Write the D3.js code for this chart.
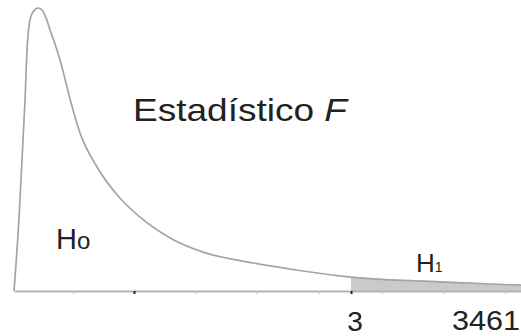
<!DOCTYPE html>
<html>
<head>
<meta charset="utf-8">
<script src="https://cdn.jsdelivr.net/npm/d3@7"></script>
<style>
  body { margin: 0; background: #fff; }
  svg { display: block; font-family: "Liberation Sans", Arial, sans-serif; }
</style>
</head>
<body>
<div id="chart"></div>
<script>
// F density curve
const fValues = [0, 0.045, 0.071, 0.098, 0.116, 0.142, 0.169, 0.214, 0.249, 0.285, 0.320, 0.365,
  0.410, 0.454, 0.499, 0.588, 0.739, 0.944, 1.122, 1.389, 1.683, 2.128, 2.573, 3.0, 3.792, 4.513];
const densities = [0, 0.203, 0.360, 0.525, 0.663, 0.745, 0.767, 0.778, 0.773, 0.751, 0.718, 0.679,
  0.635, 0.583, 0.528, 0.434, 0.341, 0.255, 0.203, 0.146, 0.107, 0.077, 0.055, 0.038, 0.025, 0.016];
const criticalF = 3;
const minorTicks = [0.525, 1.611, 2.154, 2.715, 3.276, 3.819, 4.371];
const darkTicks = [1.068, 3.0];
const critLabel = "3";
const obsLabel = "3461";

const width = 521, height = 336;
const baseY = 291;

const curveData = fValues.map((f, i) => ({f: f, d: densities[i]}));

const svg = d3.select("#chart")
  .append("svg")
    .attr("width", width)
    .attr("height", height);

const x = d3.scaleLinear()
  .domain([0, 4.513])
  .range([14, 521]);

const y = d3.scaleLinear()
  .domain([0, 0.8])
  .range([baseY, 0]);

// rejection region
const tail = curveData.filter(d => d.f >= criticalF);
svg.append("path")
  .datum(tail)
  .attr("fill", "#cacaca")
  .attr("stroke", "none")
  .attr("d", d3.area()
    .x(d => x(d.f))
    .y0(y(0))
    .y1(d => y(d.d))
    .curve(d3.curveMonotoneX));

// axis
const xAxis = svg.append("g")
  .attr("transform", `translate(0, ${baseY})`)
  .call(d3.axisBottom(x).tickValues(minorTicks).tickFormat("").tickSize(3).tickSizeOuter(0));
xAxis.select(".domain").attr("stroke", "#b4b4b4").attr("stroke-width", 2);
xAxis.selectAll(".tick line").attr("stroke", "#c4c4c4");

svg.append("g")
  .attr("transform", `translate(0, ${baseY})`)
  .call(d3.axisBottom(x).tickValues(darkTicks).tickFormat("").tickSize(3).tickSizeOuter(0))
  .call(g => g.select(".domain").remove())
  .selectAll(".tick line")
    .attr("stroke", "#222")
    .attr("stroke-width", 2);

// density curve
svg.append("path")
  .datum(curveData)
  .attr("fill", "none")
  .attr("stroke", "#a4a4a4")
  .attr("stroke-width", 1.7)
  .attr("d", d3.line()
    .x(d => x(d.f))
    .y(d => y(d.d))
    .curve(d3.curveMonotoneX));

// labels
const title = svg.append("text")
  .attr("x", 133)
  .attr("y", 121)
  .attr("font-size", 32)
  .attr("fill", "#222")
  .attr("textLength", 214)
  .attr("lengthAdjust", "spacingAndGlyphs");
title.append("tspan").text("Estadístico ");
title.append("tspan").attr("font-style", "italic").text("F");

const h0 = svg.append("text")
  .attr("x", 56)
  .attr("y", 249)
  .attr("font-size", 29)
  .attr("fill", "#222");
h0.append("tspan").text("H");
h0.append("tspan").attr("font-size", 24).text("o");

const h1 = svg.append("text")
  .attr("x", 416)
  .attr("y", 272)
  .attr("font-size", 26)
  .attr("fill", "#222");
h1.append("tspan").text("H");
h1.append("tspan").attr("font-size", 14).text("1");

svg.append("text")
  .attr("x", x(criticalF) + 4)
  .attr("y", 331)
  .attr("text-anchor", "middle")
  .attr("font-size", 28)
  .attr("fill", "#222")
  .text(critLabel);

svg.append("text")
  .attr("x", 452)
  .attr("y", 330)
  .attr("font-size", 28)
  .attr("fill", "#222")
  .attr("textLength", 68)
  .attr("lengthAdjust", "spacingAndGlyphs")
  .text(obsLabel);
</script>
</body>
</html>
